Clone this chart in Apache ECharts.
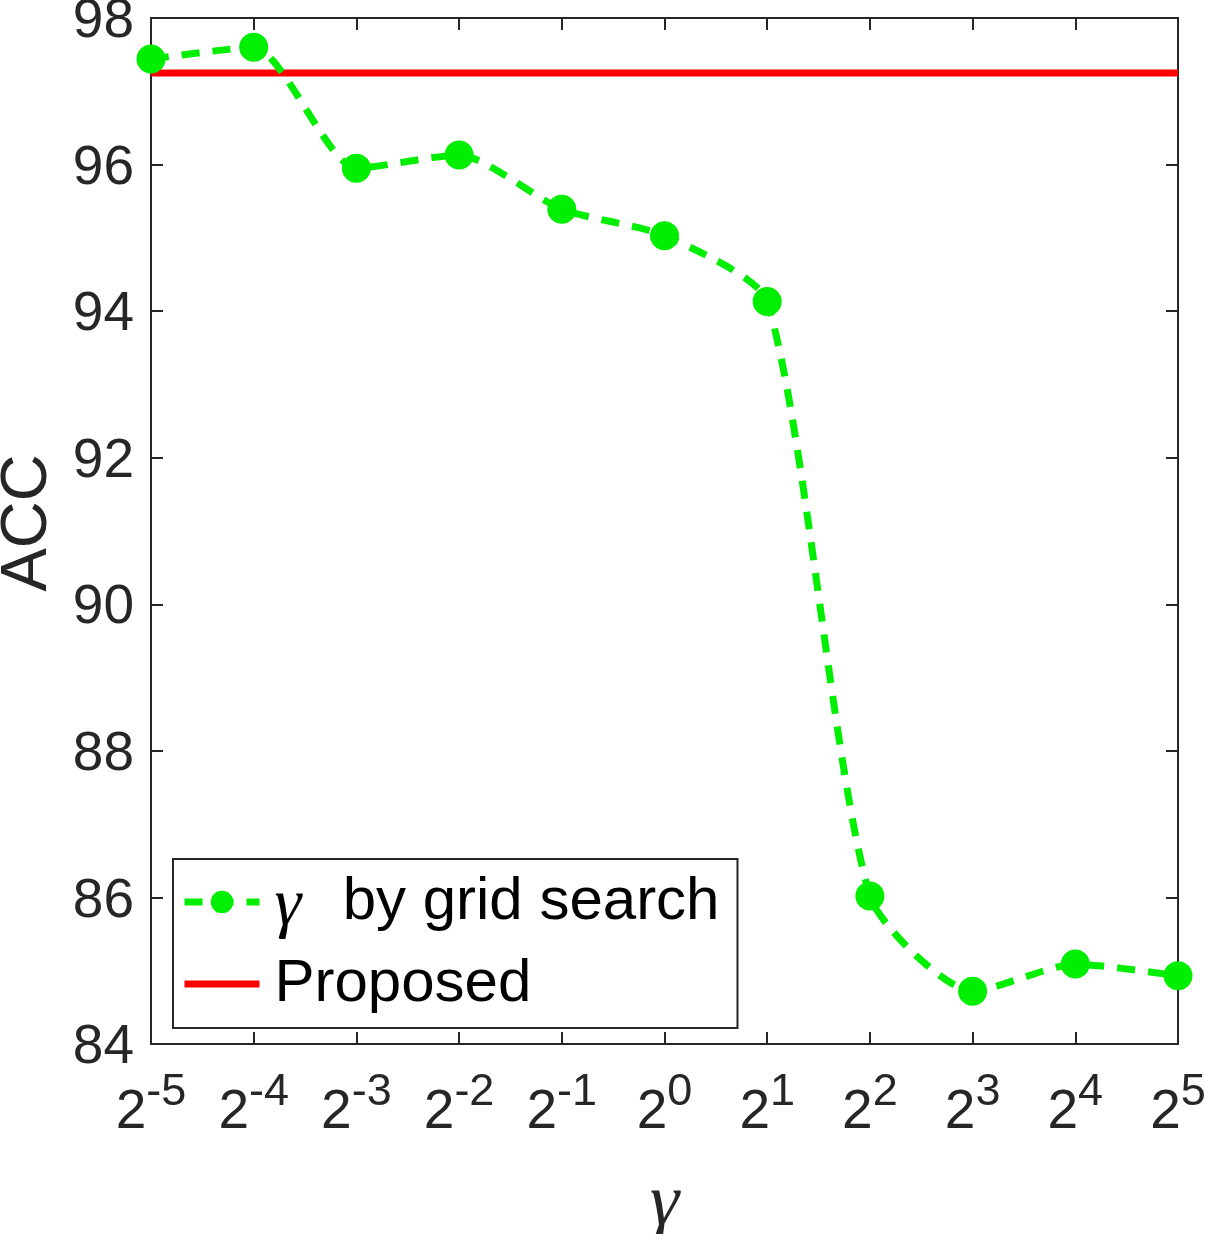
<!DOCTYPE html>
<html>
<head>
<meta charset="utf-8">
<script src="https://cdn.jsdelivr.net/npm/echarts@6/dist/echarts.min.js"></script>
<style>html,body{margin:0;padding:0;background:#fff}#c{width:1206px;height:1234px}</style>
</head>
<body>
<div id="c"></div>
<script>
// exponents of 2 on the x axis
const exponents = ['-5','-4','-3','-2','-1','0','1','2','3','4','5'];
// ACC for gamma by grid search
const gridSearchAcc = [97.44, 97.60, 95.95, 96.13, 95.39, 95.03, 94.13, 86.02, 84.72, 85.09, 84.93];
// ACC of the proposed method (horizontal line)
const proposedAcc = 97.25;
const yTicks = {min: 84, max: 98, interval: 2};

const axisColor = '#262626';
const green = '#00ee00';
const font = 'Liberation Sans, Arial, Helvetica, sans-serif';
const serif = 'Liberation Serif, Times New Roman, serif';

const chart = echarts.init(document.getElementById('c'), null, {renderer: 'canvas'});
const xLabel = {
  fontFamily: font, color: axisColor, margin: 26,
  formatter: v => '{b|2}{s|' + v + '}',
  rich: {
    b: {fontSize: 55, fontFamily: font, color: axisColor, verticalAlign: 'bottom'},
    s: {fontSize: 45, fontFamily: font, color: axisColor, verticalAlign: 'bottom', padding: [0, 0, 25, 0]}
  }
};
chart.setOption({
  animation: false,
  backgroundColor: '#fff',
  grid: {left: 151, top: 18, right: 28, bottom: 190, containLabel: false, outerBoundsMode: 'none'},
  legend: {
    data: [
      {name: 'gs', lineStyle: {width: 7, color: green}, itemStyle: {color: green}},
      {name: 'Proposed', lineStyle: {width: 7, color: '#ff0000'}, itemStyle: {opacity: 0}}
    ],
    orient: 'vertical',
    left: 173, top: 859,
    padding: [10, 18, 11, 8],
    itemGap: 10,
    itemWidth: 75, itemHeight: 28,
    borderColor: axisColor, borderWidth: 2,
    backgroundColor: '#fff',
    textStyle: {fontFamily: font, fontSize: 60, color: '#000', lineHeight: 66, padding: [0, 0, 0, 10],
      rich: {
        g: {fontFamily: serif, fontStyle: 'italic', fontSize: 68, color: '#000', padding: [10, 8, 0, 0]},
        t: {fontFamily: font, fontSize: 60, color: '#000'}
      }},
    formatter: name => name === 'gs' ? '{g|γ}{t|  by grid search}' : name
  },
  xAxis: [{
    type: 'category', data: exponents, boundaryGap: false,
    name: 'γ', nameLocation: 'middle', nameGap: 124,
    nameTextStyle: {fontFamily: serif, fontStyle: 'italic', fontSize: 74, color: axisColor},
    axisLine: {lineStyle: {color: axisColor, width: 2}},
    axisTick: {inside: true, length: 12, lineStyle: {color: axisColor, width: 2}},
    axisLabel: xLabel,
    splitLine: {show: false}
  }, {
    type: 'category', data: exponents, boundaryGap: false, position: 'top',
    axisLine: {lineStyle: {color: axisColor, width: 2}},
    axisTick: {inside: true, length: 12, lineStyle: {color: axisColor, width: 2}},
    axisLabel: {show: false}, splitLine: {show: false}
  }],
  yAxis: [{
    type: 'value', min: yTicks.min, max: yTicks.max, interval: yTicks.interval,
    name: 'ACC', nameLocation: 'middle', nameGap: 90,
    nameTextStyle: {fontFamily: font, fontSize: 65, color: axisColor, padding: [0, 0, 0, 16]},
    axisLine: {show: true, lineStyle: {color: axisColor, width: 2}},
    axisTick: {show: true, inside: true, length: 12, lineStyle: {color: axisColor, width: 2}},
    axisLabel: {fontFamily: font, fontSize: 55, color: axisColor, margin: 17,
      formatter: '{n|{value}}',
      rich: {n: {fontFamily: font, fontSize: 55, color: axisColor, padding: [8, 0, 0, 0]}}},
    splitLine: {show: false}
  }, {
    type: 'value', min: yTicks.min, max: yTicks.max, interval: yTicks.interval, position: 'right',
    axisLine: {show: true, lineStyle: {color: axisColor, width: 2}},
    axisTick: {show: true, inside: true, length: 12, lineStyle: {color: axisColor, width: 2}},
    axisLabel: {show: false}, splitLine: {show: false}
  }],
  series: [{
    name: 'Proposed', type: 'line',
    data: [[exponents[0], proposedAcc], [exponents[exponents.length - 1], proposedAcc]],
    showSymbol: false, symbol: 'none',
    lineStyle: {color: '#ff0000', width: 7},
    itemStyle: {color: '#ff0000'}
  }, {
    name: 'gs', type: 'line', data: gridSearchAcc,
    smooth: 0.22,
    symbol: 'circle', symbolSize: 29, showAllSymbol: true,
    clip: false,
    lineStyle: {color: green, width: 7, type: [18, 13]},
    itemStyle: {color: green}
  }]
});
</script>
</body>
</html>
